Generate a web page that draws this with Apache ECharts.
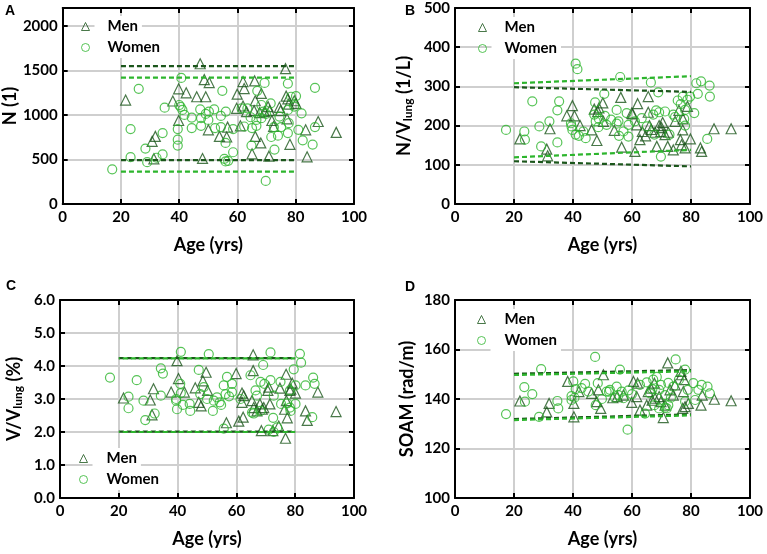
<!DOCTYPE html>
<html><head><meta charset="utf-8">
<script src="https://cdn.jsdelivr.net/npm/echarts@6/dist/echarts.min.js"></script>
<style>html,body{margin:0;padding:0;background:#fff}#c{width:767px;height:554px}</style>
</head><body><div id="c"></div>
<script>
// ---------------- DATA ----------------
const xTicks = [0, 20, 40, 60, 80, 100];
const legendNames = ['Men', 'Women'];

// Panel A: N (1)
const menA = [[47.2,1574],[76.5,1519],[48.6,1396],[50.3,1363],[61.9,1374],[65.9,1381],[39.8,1293],[42.4,1248],[46.0,1204],[49.1,1204],[21.6,1167],[37.8,1156],[59.9,1233],[62.3,1296],[68.2,1241],[66.1,1159],[59.7,1074],[61.9,1100],[65.7,1048],[63.1,1037],[76.7,1211],[79.5,1159],[77.6,1122],[74.4,1085],[74.8,1048],[77.0,956],[39.8,937],[50.0,833],[53.8,759],[56.3,752],[56.6,863],[61.0,878],[66.1,759],[68.0,685],[71.8,937],[72.4,870],[78.0,670],[83.4,833],[87.7,926],[93.9,804],[31.8,759],[30.7,704],[31.3,507],[48.0,511],[65.0,563],[70.8,537],[83.9,530],[71.0,1048],[69.3,1037],[70.5,1093],[67.6,1026],[77.3,1181],[80.1,1130]];
const womenA = [[17.0,389],[23.3,841],[23.3,526],[26.1,1293],[28.4,622],[29.0,470],[32.2,519],[34.3,796],[34.3,556],[35.0,1081],[39.5,841],[39.5,722],[39.5,656],[40.7,1415],[40.0,1111],[41.1,1056],[41.8,1000],[44.3,970],[44.3,852],[47.2,1063],[47.5,878],[49.1,1011],[50.2,1037],[52.0,1063],[54.8,1270],[54.3,989],[56.0,1037],[54.3,863],[55.9,685],[55.5,507],[55.9,478],[56.8,485],[58.5,841],[58.5,581],[63.4,1074],[65.0,852],[64.8,656],[66.8,1270],[66.5,878],[69.3,1359],[68.2,1111],[68.9,1037],[69.8,1011],[71.4,1130],[71.6,752],[72.5,863],[72.7,611],[73.9,767],[75.0,863],[77.3,1352],[77.3,796],[78.4,1204],[77.6,907],[80.9,833],[82.0,1018],[82.4,715],[85.8,667],[86.6,863],[86.6,1304],[69.7,259],[47.5,963],[50.0,944],[62.3,870],[74.4,981],[79.5,1093],[68.2,963],[61.4,1074],[52.3,852],[77.3,1056],[80.1,1211],[64.5,974],[66.5,944],[40.5,1090]];
const fitMenA = [[[20,1548],[80,1548]], [[20,493],[80,493]]];
const fitWomenA = [[[20,1419],[80,1419]], [[20,363],[80,363]]];

// Panel B: N/V_lung (1/L)
const menB = [[22.0,166],[31.1,140],[31.4,123],[32.2,192],[37.9,225],[39.8,251],[40.5,225],[42.4,200],[46.3,189],[47.2,242],[48.4,236],[48.1,162],[50.1,258],[50.3,211],[54.0,188],[56.2,272],[56.5,145],[59.9,232],[61.9,256],[61.6,202],[61.0,134],[65.5,274],[65.5,234],[62.7,164],[64.6,174],[65.9,200],[67.8,183],[68.4,147],[69.2,200],[69.8,185],[70.4,208],[71.2,177],[72.3,183],[72.1,147],[74.0,138],[74.6,211],[75.9,239],[76.4,164],[77.2,189],[76.8,151],[78.0,143],[78.8,249],[79.8,166],[77.3,217],[83.2,143],[83.6,134],[87.8,192],[93.6,192],[66.5,190],[70.0,195],[63.5,185],[48.8,245],[60.2,230]];
const womenB = [[17.3,189],[23.5,185],[23.7,164],[26.2,262],[28.6,198],[29.2,147],[32.0,211],[34.7,157],[35.3,262],[34.7,239],[39.3,206],[39.8,189],[39.5,198],[40.9,358],[41.5,344],[40.9,177],[43.5,185],[44.3,168],[47.5,259],[47.2,228],[47.7,211],[48.8,217],[50.6,281],[50.8,225],[52.9,215],[54.8,240],[54.8,205],[55.4,211],[56.0,324],[55.6,174],[57.1,185],[58.2,232],[58.8,202],[63.3,219],[66.4,310],[68.2,239],[68.9,285],[69.8,121],[71.2,236],[72.7,177],[74.0,228],[75.5,264],[77.2,274],[78.8,266],[79.7,274],[81.1,232],[81.8,308],[83.4,313],[86.3,302],[86.4,274],[85.5,166],[82.3,281],[77.7,217],[78.0,200],[67.2,228],[69.2,234],[65.0,198],[61.0,211],[51.4,202],[48.6,196],[42.0,174],[67.6,177],[74.6,222],[58.8,172],[78.0,240],[76.5,255]];
const fitMenB = [[[20,298],[80,286]], [[20,109],[80,96]]];
const fitWomenB = [[[20,308],[80,326]], [[20,119],[80,138]]];

// Panel C: V/V_lung (%)
const menC = [[21.6,3.03],[31.8,3.31],[30.7,2.97],[31.3,2.52],[37.8,3.21],[39.8,4.16],[40.3,3.62],[42.3,3.21],[46.0,3.34],[47.2,2.90],[48.0,2.79],[48.6,3.55],[49.7,3.81],[50.2,3.26],[59.9,3.77],[65.7,3.86],[65.7,4.34],[56.6,2.28],[60.8,2.33],[62.3,2.45],[61.9,3.18],[61.9,2.90],[65.3,2.95],[68.0,2.85],[67.0,2.64],[68.8,2.69],[68.5,2.04],[70.7,3.26],[71.0,3.36],[72.4,2.04],[74.4,2.18],[74.8,3.33],[76.9,3.75],[76.7,1.81],[77.3,2.43],[76.4,2.69],[77.0,2.95],[78.2,3.26],[79.0,3.48],[80.1,3.18],[83.5,2.64],[84.1,2.35],[87.7,3.21],[93.9,2.62],[71.4,2.85],[69.3,2.74],[65.9,2.74],[62.5,3.10],[78.5,3.30]];
const womenC = [[17.0,3.65],[23.3,3.07],[23.3,2.72],[26.1,3.57],[28.4,2.95],[29.0,2.36],[32.2,2.56],[34.3,3.10],[34.3,3.93],[35.0,3.77],[39.5,3.00],[39.5,2.95],[39.8,2.69],[41.1,4.43],[40.9,3.46],[41.1,3.18],[41.8,2.82],[44.3,2.64],[47.2,3.88],[47.7,3.15],[50.0,3.00],[50.6,4.36],[52.0,2.64],[52.3,2.95],[54.3,2.90],[55.7,3.41],[56.3,3.15],[56.8,3.67],[58.5,3.46],[55.7,2.10],[64.8,3.72],[66.5,3.26],[67.0,3.10],[69.1,4.03],[68.2,3.52],[71.6,4.41],[71.6,3.57],[71.0,2.07],[72.7,2.00],[72.5,2.43],[73.9,2.14],[75.0,3.52],[75.2,2.85],[77.3,2.87],[78.2,2.74],[78.4,2.64],[79.5,3.90],[80.1,3.41],[81.6,4.37],[82.0,4.10],[83.5,3.41],[86.1,3.65],[86.6,3.46],[85.8,2.45],[78.2,3.26],[65.9,2.56],[68.2,2.64],[58.5,3.21],[44.1,2.85],[48.9,3.36],[53.4,3.05],[61.4,3.00],[69.5,3.46],[65.3,2.59],[72.7,3.10],[80.1,2.85],[54.8,2.82],[57.5,3.08]];
const fitMenC = [[[20,4.24],[80,4.24]], [[20,2.01],[80,2.01]]];
const fitWomenC = [[[20,4.23],[80,4.23]], [[20,2.00],[80,2.00]]];

// Panel D: SOAM (rad/m)
const menD = [[22.0,139.2],[31.9,138.2],[31.1,134.8],[38.2,147.1],[40.3,132.8],[40.3,138.2],[42.0,143.0],[48.6,143.7],[48.0,138.9],[50.3,149.8],[49.4,136.2],[46.3,142.3],[57.1,141.6],[59.9,138.6],[60.5,147.1],[61.9,146.4],[61.6,141.0],[62.7,135.5],[65.0,137.5],[65.5,143.0],[66.4,144.4],[67.6,146.4],[67.8,140.3],[69.2,141.0],[69.8,138.9],[70.6,132.5],[71.2,137.5],[72.1,154.6],[74.0,141.6],[74.6,145.7],[76.6,151.2],[76.8,149.8],[77.4,143.0],[78.0,136.9],[77.2,136.2],[79.1,138.2],[77.7,147.8],[83.4,137.5],[83.8,141.6],[87.9,139.9],[93.6,139.3],[53.5,140.5],[66.8,139.5],[72.9,143.7],[55.0,141.0]];
const womenD = [[17.3,133.9],[23.5,144.8],[23.7,138.9],[26.2,142.0],[29.2,152.1],[28.5,132.8],[34.7,139.2],[35.0,136.2],[39.5,141.2],[39.5,139.6],[40.1,147.1],[40.9,144.0],[42.9,144.4],[44.1,146.1],[47.7,137.5],[47.5,157.0],[48.4,146.4],[51.4,143.0],[52.5,143.7],[54.8,145.0],[55.4,141.6],[55.9,151.9],[57.1,140.3],[56.5,143.0],[58.5,127.6],[62.7,145.7],[65.0,146.7],[66.1,142.3],[66.9,144.0],[67.2,147.8],[68.4,148.9],[69.2,143.7],[69.8,145.7],[71.2,141.6],[72.3,137.5],[71.8,136.2],[74.0,145.0],[74.8,156.0],[75.9,147.8],[78.0,151.9],[78.9,143.7],[80.8,146.4],[81.4,139.6],[82.5,143.7],[83.6,145.7],[85.6,145.0],[86.4,142.3],[78.0,139.0],[64.4,134.1],[71.2,136.5],[72.3,146.5],[52.2,143.0],[45.2,143.0],[40.5,140.5],[54.2,140.5],[58.8,143.5],[67.6,137.5],[73.2,140.5],[69.2,136.2],[60.0,142.0],[49.8,140.0]];
const fitMenD = [[[20,150.2],[80,151.7]], [[20,131.9],[80,133.8]]];
const fitWomenD = [[[20,149.7],[80,151.2]], [[20,131.5],[80,133.4]]];

// ---------------- STYLE / LAYOUT ----------------
const FONT = 'Lato';
const DARK = '#1b561b';
const LIGHT = '#2db52d';
const GRIDC = '#cfcfcf';

const panels = [
  {letter:'A', grid:{left:60, top:8, width:294, height:196}, ymin:0, ymax:2200, yint:500, fmt:v=>v>2000?'':String(v),
   yname:'N (1)', nameGap:37, men:menA, women:womenA, fitM:fitMenA, fitW:fitWomenA,
   legend:{left:81, top:16, pad:12}, lpos:[5,4]},
  {letter:'B', grid:{left:455, top:8, width:295, height:196}, ymin:0, ymax:500, yint:100, fmt:v=>String(v),
   yname:'N/V{sub|lung} (1/L)', nameGap:41, men:menB, women:womenB, fitM:fitMenB, fitW:fitWomenB,
   legend:{left:478, top:17, pad:12}, lpos:[405,4]},
  {letter:'C', grid:{left:60, top:300, width:294, height:198}, ymin:0, ymax:6, yint:1, fmt:v=>v.toFixed(1),
   yname:'V/V{sub|lung} (%)', nameGap:36, men:menC, women:womenC, fitM:fitMenC, fitW:fitWomenC,
   legend:{left:79, top:448, pad:13}, lpos:[6,279]},
  {letter:'D', grid:{left:455, top:300, width:295, height:198}, ymin:100, ymax:180, yint:20, fmt:v=>String(v),
   yname:'SOAM (rad/m)', nameGap:39, men:menD, women:womenD, fitM:fitMenD, fitW:fitWomenD,
   legend:{left:477, top:309, pad:13}, lpos:[405,280]}
];

const axisLine = {show:true, onZero:false, lineStyle:{color:'#000', width:2}};
const axisTick = {show:true, inside:true, length:5, lineStyle:{color:'#000', width:2}};
const labelStyle = {fontFamily:FONT, fontWeight:'bold', fontSize:15, color:'#000'};
const nameStyle = {fontFamily:FONT, fontWeight:'bold', fontSize:18, color:'#000',
  rich:{sub:{fontFamily:FONT, fontWeight:'bold', fontSize:12, color:'#000', padding:[8,0,0,0]}}};

const option = {animation:false, backgroundColor:'#fff', grid:[], xAxis:[], yAxis:[], series:[], legend:[], graphic:[]};

panels.forEach((p, i) => {
  option.grid.push(Object.assign({containLabel:false}, p.grid));
  // bottom & top x axes
  option.xAxis.push({gridIndex:i, type:'value', position:'bottom', min:xTicks[0], max:xTicks[xTicks.length-1], interval:xTicks[1]-xTicks[0],
    axisLine, axisTick, axisLabel:Object.assign({margin:6}, labelStyle),
    splitLine:{show:true, lineStyle:{color:GRIDC, width:2}},
    name:'Age (yrs)', nameLocation:'middle', nameGap:32, nameTextStyle:nameStyle});
  option.xAxis.push({gridIndex:i, type:'value', position:'top', min:xTicks[0], max:xTicks[xTicks.length-1], interval:xTicks[1]-xTicks[0],
    axisLine, axisTick, axisLabel:{show:false}, splitLine:{show:false}});
  // left & right y axes
  option.yAxis.push({gridIndex:i, type:'value', position:'left', min:p.ymin, max:p.ymax, interval:p.yint,
    axisLine, axisTick, axisLabel:Object.assign({margin:5, formatter:p.fmt}, labelStyle),
    splitLine:{show:true, lineStyle:{color:GRIDC, width:2}},
    name:p.yname, nameLocation:'middle', nameRotate:90, nameGap:p.nameGap, nameTextStyle:nameStyle});
  option.yAxis.push({gridIndex:i, type:'value', position:'right', min:p.ymin, max:p.ymax, interval:p.yint,
    axisLine, axisTick, axisLabel:{show:false}, splitLine:{show:false}});

  const xi = 2*i, yi = 2*i;
  const dashed = (data, color, offset) => ({type:'line', xAxisIndex:xi, yAxisIndex:yi, data, symbol:'none', silent:true, z:3,
    lineStyle:{color, width:2.2, type:[5,3], dashOffset:offset}});
  p.fitM.forEach(d => option.series.push(dashed(d, DARK, 0)));
  p.fitW.forEach(d => option.series.push(dashed(d, LIGHT, i===2 ? 4 : 0)));
  option.series.push({name:'Men', type:'scatter', xAxisIndex:xi, yAxisIndex:yi, data:p.men, symbol:'triangle', symbolSize:10, z:2,
    itemStyle:{color:'rgba(255,255,255,0)', borderColor:DARK, borderWidth:1.2}});
  option.series.push({name:'Women', type:'scatter', xAxisIndex:xi, yAxisIndex:yi, data:p.women, symbol:'circle', symbolSize:9, z:2,
    itemStyle:{color:'rgba(255,255,255,0)', borderColor:LIGHT, borderWidth:1.2}});

  option.legend.push({data:legendNames, orient:'vertical', left:p.legend.left, top:p.legend.top, itemWidth:8, itemHeight:8, itemGap:0,
    selectedMode:false, padding:0, itemStyle:{borderWidth:1},
    textStyle:{fontFamily:FONT, fontWeight:'bold', fontSize:15, color:'#000', lineHeight:19, backgroundColor:'#fff', padding:[1,4,1,p.legend.pad+1]}});

  option.graphic.push({type:'text', left:p.lpos[0], top:p.lpos[1], z:10,
    style:{text:p.letter, font:'bold 14px "Liberation Sans"', fill:'#000'}});
});

const chart = echarts.init(document.getElementById('c'), null, {renderer:'canvas'});
chart.setOption(option);
</script></body></html>
